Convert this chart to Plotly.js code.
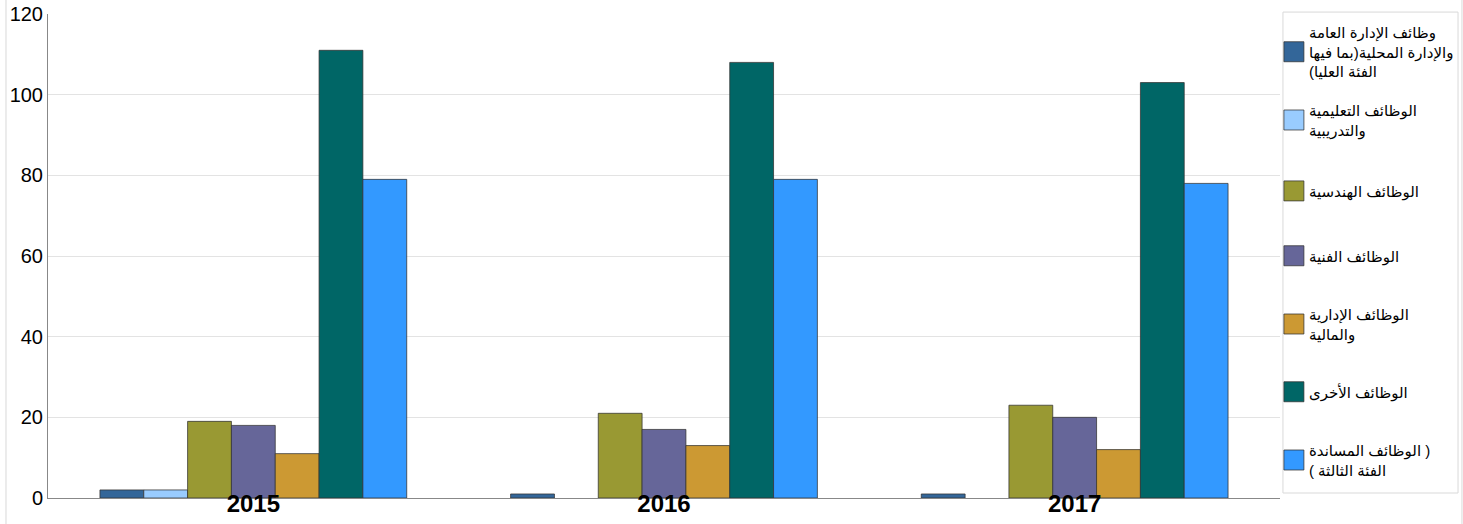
<!DOCTYPE html>
<html>
<head>
<meta charset="utf-8">
<script src="https://cdn.plot.ly/plotly-3.0.1.min.js"></script>
<style>html,body{margin:0;padding:0;background:#fff;}#chart{width:1463px;height:524px;}</style>
</head>
<body>
<div id="chart"></div>
<script>
// Data
const years = ['2015', '2016', '2017'];
const seriesNames = [
  'وظائف الإدارة العامة<br>والإدارة المحلية(بما فيها<br>الفئة العليا)',
  'الوظائف التعليمية<br>والتدريبية',
  'الوظائف الهندسية',
  'الوظائف الفنية',
  'الوظائف الإدارية<br>والمالية',
  'الوظائف الأخرى',
  '( الوظائف المساندة<br>الفئة الثالثة )'
];
const adminTop = [2, 1, 1];
const education = [2, 0, 0];
const engineering = [19, 21, 23];
const technical = [18, 17, 20];
const adminFinance = [11, 13, 12];
const other = [111, 108, 103];
const support = [79, 79, 78];
const yTicks = [0, 20, 40, 60, 80, 100, 120];

const seriesValues = [adminTop, education, engineering, technical, adminFinance, other, support];
const colors = ['#336699', '#99CCFF', '#999933', '#666699', '#CC9933', '#006666', '#3399FF'];
const legendY = [0.9215, 0.781, 0.634, 0.5, 0.3595, 0.219, 0.0785];

// each legend line laid out as an isolated right-to-left run
const rtlLines = s => s.split('<br>').map(l => '\u2067' + l + '\u2069').join('<br>');

const traces = seriesValues.map((vals, i) => ({
  type: 'bar',
  name: rtlLines(seriesNames[i]),
  x: years,
  y: vals,
  marker: {color: colors[i], line: {color: 'rgba(50,50,50,0.75)', width: vals.map(v => v > 0 ? 1 : 0)}},
  legend: i === 0 ? 'legend' : 'legend' + (i + 1),
  hoverinfo: 'x+y'
}));

const layout = {
  width: 1463, height: 524,
  margin: {l: 48, r: 183, t: 14, b: 26, autoexpand: false},
  paper_bgcolor: '#ffffff',
  plot_bgcolor: '#ffffff',
  barmode: 'group',
  bargap: 0.253,
  bargroupgap: 0,
  font: {family: 'Arial, Liberation Sans, DejaVu Sans, sans-serif', color: '#000'},
  xaxis: {
    type: 'category',
    showline: true, linecolor: '#888', linewidth: 1,
    showgrid: false, zeroline: false,
    ticks: '',
    tickfont: {size: 24, family: 'Arial, Liberation Sans, sans-serif', color: '#000', weight: 'bold'},
    ticklabelstandoff: -16
  },
  yaxis: {
    range: [0, 120],
    tickvals: yTicks,
    ticktext: yTicks.map(String),
    showline: true, linecolor: '#888', linewidth: 1,
    showgrid: true, gridcolor: '#e3e3e3', gridwidth: 1,
    zeroline: false,
    ticks: '',
    tickfont: {size: 20, family: 'Arial, Liberation Sans, sans-serif', color: '#000'}
  },
  showlegend: true,
  shapes: [
    {type: 'rect', xref: 'paper', yref: 'paper', x0: 1.0024, x1: 1.1445, y0: 0.0103, y1: 1.004,
     line: {color: '#d9d9d9', width: 1}, fillcolor: 'rgba(0,0,0,0)', layer: 'below'},
    {type: 'rect', xref: 'paper', yref: 'paper', x0: -0.0341, x1: 1.1477, y0: -0.2, y1: 1.2,
     line: {color: '#d9d9d9', width: 1}, fillcolor: 'rgba(0,0,0,0)', layer: 'below'}
  ]
};

legendY.forEach((yy, i) => {
  const key = i === 0 ? 'legend' : 'legend' + (i + 1);
  layout[key] = {
    x: 0.991, xanchor: 'left',
    y: yy, yanchor: 'middle',
    bgcolor: 'rgba(0,0,0,0)', borderwidth: 0,
    font: {size: 15, family: 'Arial, DejaVu Sans, sans-serif', color: '#000'},
    itemclick: false, itemdoubleclick: false
  };
});

Plotly.newPlot('chart', traces, layout, {displayModeBar: false, staticPlot: true}).then(gd => {
  // enlarge legend swatches to match the reference's 20px squares
  gd.querySelectorAll('.legendpoints path').forEach(p => {
    const t = p.getAttribute('transform') || '';
    p.setAttribute('transform', t + ' translate(5,0) scale(1.667)');
    p.style.vectorEffect = 'non-scaling-stroke';
  });
  // let the swatches show fully (the legend clip box is narrower than the enlarged swatch)
  gd.querySelectorAll('.legend .scrollbox').forEach(s => s.removeAttribute('clip-path'));
});
</script>
</body>
</html>
